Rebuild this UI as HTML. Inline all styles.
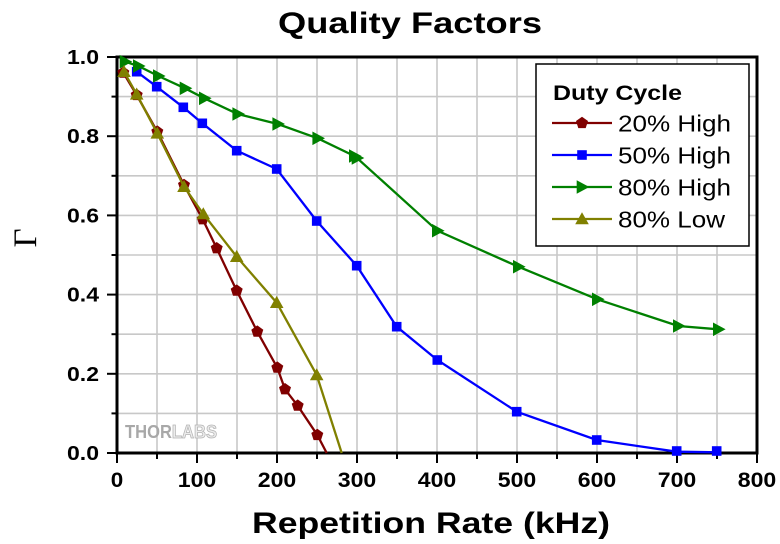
<!DOCTYPE html>
<html><head><meta charset="utf-8"><style>
html,body{margin:0;padding:0;background:#fff;}
svg{display:block;}
text{font-family:"Liberation Sans",Arial,sans-serif;}
</style></head><body>
<svg width="780" height="544" viewBox="0 0 780 544" xmlns="http://www.w3.org/2000/svg">
<rect width="780" height="544" fill="#fff"/>
<!-- grid -->
<g stroke="#c8c8c8" stroke-width="1.6">
<line x1="157" y1="57" x2="157" y2="453"/><line x1="197" y1="57" x2="197" y2="453"/><line x1="237" y1="57" x2="237" y2="453"/><line x1="277" y1="57" x2="277" y2="453"/><line x1="317" y1="57" x2="317" y2="453"/><line x1="357" y1="57" x2="357" y2="453"/><line x1="397" y1="57" x2="397" y2="453"/><line x1="437" y1="57" x2="437" y2="453"/><line x1="477" y1="57" x2="477" y2="453"/><line x1="517" y1="57" x2="517" y2="453"/><line x1="557" y1="57" x2="557" y2="453"/><line x1="597" y1="57" x2="597" y2="453"/><line x1="637" y1="57" x2="637" y2="453"/><line x1="677" y1="57" x2="677" y2="453"/><line x1="717" y1="57" x2="717" y2="453"/>
<line x1="117" y1="96.6" x2="757" y2="96.6"/><line x1="117" y1="136.2" x2="757" y2="136.2"/><line x1="117" y1="175.8" x2="757" y2="175.8"/><line x1="117" y1="215.4" x2="757" y2="215.4"/><line x1="117" y1="255" x2="757" y2="255"/><line x1="117" y1="294.6" x2="757" y2="294.6"/><line x1="117" y1="334.2" x2="757" y2="334.2"/><line x1="117" y1="373.8" x2="757" y2="373.8"/><line x1="117" y1="413.4" x2="757" y2="413.4"/>
</g>
<!-- THORLABS logo -->
<text x="125" y="438" font-size="18" font-weight="bold" textLength="92" lengthAdjust="spacingAndGlyphs"><tspan fill="#a8a8a8">THOR</tspan><tspan fill="#ececec" stroke="#b4b4b4" stroke-width="0.8">LABS</tspan></text>
<!-- frame -->
<rect x="117" y="57" width="640" height="396" fill="none" stroke="#000" stroke-width="3"/>
<!-- ticks -->
<g stroke="#000" stroke-width="2">
<line x1="107" y1="57" x2="117" y2="57"/><line x1="107" y1="136.2" x2="117" y2="136.2"/><line x1="107" y1="215.4" x2="117" y2="215.4"/><line x1="107" y1="294.6" x2="117" y2="294.6"/><line x1="107" y1="373.8" x2="117" y2="373.8"/><line x1="107" y1="453" x2="117" y2="453"/>
<line x1="111.5" y1="96.6" x2="117" y2="96.6"/><line x1="111.5" y1="175.8" x2="117" y2="175.8"/><line x1="111.5" y1="255" x2="117" y2="255"/><line x1="111.5" y1="334.2" x2="117" y2="334.2"/><line x1="111.5" y1="413.4" x2="117" y2="413.4"/>
<line x1="117" y1="453" x2="117" y2="463"/><line x1="197" y1="453" x2="197" y2="463"/><line x1="277" y1="453" x2="277" y2="463"/><line x1="357" y1="453" x2="357" y2="463"/><line x1="437" y1="453" x2="437" y2="463"/><line x1="517" y1="453" x2="517" y2="463"/><line x1="597" y1="453" x2="597" y2="463"/><line x1="677" y1="453" x2="677" y2="463"/><line x1="757" y1="453" x2="757" y2="463"/>
<line x1="157" y1="453" x2="157" y2="459"/><line x1="237" y1="453" x2="237" y2="459"/><line x1="317" y1="453" x2="317" y2="459"/><line x1="397" y1="453" x2="397" y2="459"/><line x1="477" y1="453" x2="477" y2="459"/><line x1="557" y1="453" x2="557" y2="459"/><line x1="637" y1="453" x2="637" y2="459"/><line x1="717" y1="453" x2="717" y2="459"/>
</g>
<!-- y tick labels -->
<g font-size="20" font-weight="bold" text-anchor="end" fill="#000">
<text x="99" y="64" textLength="32" lengthAdjust="spacingAndGlyphs">1.0</text>
<text x="99" y="143.2" textLength="32" lengthAdjust="spacingAndGlyphs">0.8</text>
<text x="99" y="222.4" textLength="32" lengthAdjust="spacingAndGlyphs">0.6</text>
<text x="99" y="301.6" textLength="32" lengthAdjust="spacingAndGlyphs">0.4</text>
<text x="99" y="380.8" textLength="32" lengthAdjust="spacingAndGlyphs">0.2</text>
<text x="99" y="460" textLength="32" lengthAdjust="spacingAndGlyphs">0.0</text>
</g>
<!-- x tick labels -->
<g font-size="21" font-weight="bold" text-anchor="middle" fill="#000">
<text x="117" y="487" textLength="12.5" lengthAdjust="spacingAndGlyphs">0</text>
<text x="197" y="487" textLength="38.5" lengthAdjust="spacingAndGlyphs">100</text>
<text x="277" y="487" textLength="38.5" lengthAdjust="spacingAndGlyphs">200</text>
<text x="357" y="487" textLength="38.5" lengthAdjust="spacingAndGlyphs">300</text>
<text x="437" y="487" textLength="38.5" lengthAdjust="spacingAndGlyphs">400</text>
<text x="517" y="487" textLength="38.5" lengthAdjust="spacingAndGlyphs">500</text>
<text x="597" y="487" textLength="38.5" lengthAdjust="spacingAndGlyphs">600</text>
<text x="677" y="487" textLength="38.5" lengthAdjust="spacingAndGlyphs">700</text>
<text x="757" y="487" textLength="38.5" lengthAdjust="spacingAndGlyphs">800</text>
</g>
<!-- title & labels -->
<text x="410" y="33" font-size="30" font-weight="bold" text-anchor="middle" textLength="264" lengthAdjust="spacingAndGlyphs">Quality Factors</text>
<text x="431" y="533" font-size="30" font-weight="bold" text-anchor="middle" textLength="358" lengthAdjust="spacingAndGlyphs">Repetition Rate (kHz)</text>
<text transform="translate(36,238) rotate(-90)" font-size="33" text-anchor="middle" style="font-family:'Liberation Serif',serif">Γ</text>

<defs>
<polygon id="pent" points="0,-6.3 6,-2 3.7,5.1 -3.7,5.1 -6,-2"/>
<rect id="sq" x="-4.8" y="-4.8" width="9.6" height="9.6"/>
<polygon id="rtri" points="-5.3,-6.8 7.3,0 -5.3,6.8"/>
<polygon id="utri" points="0,-6.8 6.8,5.3 -6.8,5.3"/>
</defs>

<!-- 20% High -->
<polyline fill="none" stroke="#800000" stroke-width="2.3" points="123.3,72.7 136.7,95 157.3,131.7 184,185 202.7,219.3 216.7,248.3 236.7,290.7 257.3,331.7 277.3,367.7 285,389.3 297.7,405.7 317.3,435 326.7,453"/>
<g fill="#800000">
<use href="#pent" x="123.3" y="72.7"/><use href="#pent" x="136.7" y="95"/><use href="#pent" x="157.3" y="131.7"/><use href="#pent" x="184" y="185"/><use href="#pent" x="202.7" y="219.3"/><use href="#pent" x="216.7" y="248.3"/><use href="#pent" x="236.7" y="290.7"/><use href="#pent" x="257.3" y="331.7"/><use href="#pent" x="277.3" y="367.7"/><use href="#pent" x="285" y="389.3"/><use href="#pent" x="297.7" y="405.7"/><use href="#pent" x="317.3" y="435"/>
</g>
<!-- 50% High -->
<polyline fill="none" stroke="#0000ff" stroke-width="2.3" points="136.7,71.7 156.7,86.7 183.3,107.3 202.3,123.3 236.7,150.7 276.7,169 316.7,221 356.7,265.7 396.7,326.7 437.3,360 516.7,411.7 596.7,440 676.7,451.7 716.7,452.3"/>
<g fill="#0000ff">
<use href="#sq" x="136.7" y="71.7"/><use href="#sq" x="156.7" y="86.7"/><use href="#sq" x="183.3" y="107.3"/><use href="#sq" x="202.3" y="123.3"/><use href="#sq" x="236.7" y="150.7"/><use href="#sq" x="276.7" y="169"/><use href="#sq" x="316.7" y="221"/><use href="#sq" x="356.7" y="265.7"/><use href="#sq" x="396.7" y="326.7"/><use href="#sq" x="437.3" y="360"/><use href="#sq" x="516.7" y="411.7"/><use href="#sq" x="596.7" y="440"/><use href="#sq" x="676.7" y="451"/><use href="#sq" x="716.7" y="451"/>
</g>
<!-- 80% High -->
<polyline fill="none" stroke="#008000" stroke-width="2.3" points="125,61.7 138.3,66 158.3,76 185,88.3 204.3,98.3 237.7,114 277.7,124 317.7,138.3 354.3,156 357,158 437.3,230.7 518.3,266.7 597.3,299.3 678.3,326 718.3,329.3"/>
<g fill="#008000">
<use href="#rtri" x="125" y="61.7"/><use href="#rtri" x="138.3" y="66"/><use href="#rtri" x="158.3" y="76"/><use href="#rtri" x="185" y="88.3"/><use href="#rtri" x="204.3" y="98.3"/><use href="#rtri" x="237.7" y="114"/><use href="#rtri" x="277.7" y="124"/><use href="#rtri" x="317.7" y="138.3"/><use href="#rtri" x="354.3" y="156"/><use href="#rtri" x="357" y="158"/><use href="#rtri" x="437.3" y="230.7"/><use href="#rtri" x="518.3" y="266.7"/><use href="#rtri" x="597.3" y="299.3"/><use href="#rtri" x="678.3" y="326"/><use href="#rtri" x="718.3" y="329.3"/>
</g>
<!-- 80% Low -->
<polyline fill="none" stroke="#808000" stroke-width="2.3" points="124,71.7 136.7,94.3 157.3,133.3 184,186.7 203.3,214 236.7,256.7 276.7,302.7 316.7,375 341.7,453"/>
<g fill="#808000">
<use href="#utri" x="124" y="71.7"/><use href="#utri" x="136.7" y="94.3"/><use href="#utri" x="157.3" y="133.3"/><use href="#utri" x="184" y="186.7"/><use href="#utri" x="203.3" y="214"/><use href="#utri" x="236.7" y="256.7"/><use href="#utri" x="276.7" y="302.7"/><use href="#utri" x="316.7" y="375"/>
</g>

<!-- legend -->
<rect x="536" y="64" width="213" height="182" fill="#fff" stroke="#000" stroke-width="1.5"/>
<text x="553" y="100" font-size="21" font-weight="bold" textLength="129" lengthAdjust="spacingAndGlyphs">Duty Cycle</text>
<g stroke-width="2.3">
<line x1="552" y1="123" x2="612" y2="123" stroke="#800000"/>
<line x1="552" y1="155" x2="612" y2="155" stroke="#0000ff"/>
<line x1="552" y1="187" x2="612" y2="187" stroke="#008000"/>
<line x1="552" y1="219" x2="612" y2="219" stroke="#808000"/>
</g>
<use href="#pent" x="582" y="123" fill="#800000"/>
<use href="#sq" x="582" y="155" fill="#0000ff"/>
<use href="#rtri" x="582" y="187" fill="#008000"/>
<use href="#utri" x="582" y="219" fill="#808000"/>
<g font-size="23" fill="#000">
<text x="618" y="131.7" textLength="113" lengthAdjust="spacingAndGlyphs">20% High</text>
<text x="618" y="163.3" textLength="113" lengthAdjust="spacingAndGlyphs">50% High</text>
<text x="618" y="195.7" textLength="113" lengthAdjust="spacingAndGlyphs">80% High</text>
<text x="618" y="227.7" textLength="107" lengthAdjust="spacingAndGlyphs">80% Low</text>
</g>
</svg>
</body></html>
